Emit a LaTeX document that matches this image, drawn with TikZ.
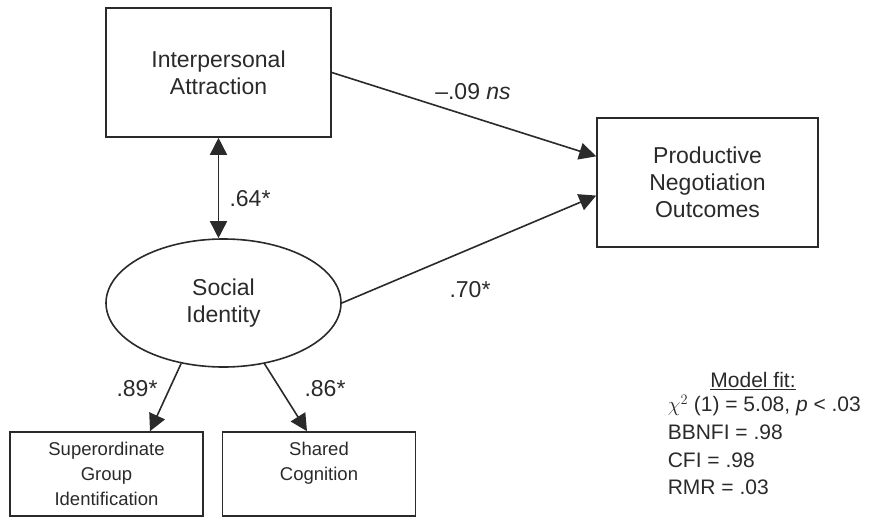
\documentclass[tikz,border=0pt]{standalone}
\usepackage{fontspec}
\setmainfont{Liberation Sans}
\usetikzlibrary{shapes.geometric,arrows.meta,calc}
\definecolor{inkgray}{HTML}{2A2A2A}
\begin{document}
\begin{tikzpicture}[x=1pt, y=-1pt, line width=1.6pt, draw=inkgray, text=inkgray]
    % Stili
    \tikzset{
        construct/.style={rectangle, draw=inkgray, inner sep=0pt,
                     minimum height=129pt, minimum width=225pt,
                     align=center, font=\fontsize{23}{27}\selectfont},
        latent/.style={ellipse, draw=inkgray, inner sep=0pt,
                     minimum height=128pt, minimum width=235pt,
                     align=center, font=\fontsize{23}{27}\selectfont},
        indicator/.style={rectangle, draw=inkgray, inner sep=0pt,
                     minimum height=84pt, minimum width=193pt,
                     align=center, font=\fontsize{18.5}{25}\selectfont},
        path/.style={-{Triangle[length=17pt,width=17pt]}, draw=inkgray},
        coef/.style={font=\fontsize{23}{27}\selectfont},
        fit/.style={font=\fontsize{21}{27.7}\selectfont}
    }
    \useasboundingbox (0,0) rectangle (869,517);

    % Costrutti
    \node[construct] (ia) at (218.5,72.5) {Interpersonal\\Attraction};
    \node[construct, minimum width=221pt] (po) at (707.5,182.5)
        {Productive\\Negotiation\\Outcomes};

    % Variabile latente
    \node[latent] (si) at (223.5,303) {Social\\Identity};

    % Indicatori
    \node[indicator] (sgi) at (106.5,474) {Superordinate\\Group\\Identification};
    \node[indicator] (sc) at (319,474) {Shared\\Cognition\\~};

    % Connessioni
    \draw[path, {Triangle[length=17pt,width=17pt]}-{Triangle[length=17pt,width=17pt]}]
        (ia) -- (ia |- si.north);
    \draw[path] (ia.east) -- ($(po.north west)!0.3!(po.south west)$);
    \draw[path] (si.east) -- ($(po.north west)!0.6!(po.south west)$);
    \draw[path] (si.235) -- ($(sgi.north)+(43.5,0)$);
    \draw[path] (si.304) -- ($(sc.north)+(-12,0)$);

    % Coefficienti
    \node[coef] (c64) at (250,199) {.64*};
    \node[coef] (c09) at (473,92) {–.09 \textit{ns}};
    \node[coef] (c70) at (470,290) {.70*};
    \node[coef] (c89) at (137,389) {.89*};
    \node[coef] (c86) at (325,389) {.86*};

    % Adattamento del modello
    \node[fit] (fittitle) at (753,381) {\underline{Model fit:}};
    \node[fit, anchor=north west, align=left, inner sep=0pt] (fitlines) at (667,394)
        {$\chi^2$ (1) = 5.08, \textit{p} < .03\\BBNFI = .98\\CFI = .98\\RMR = .03};
\end{tikzpicture}
\end{document}
